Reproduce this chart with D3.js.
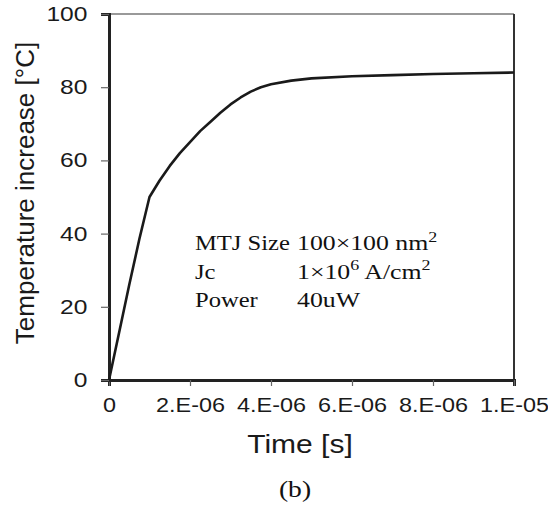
<!DOCTYPE html>
<html>
<head>
<meta charset="utf-8">
<script src="https://cdn.jsdelivr.net/npm/d3@7"></script>
<style>
  body { margin: 0; background: #fff; }
  svg { display: block; }
</style>
</head>
<body>
<script>
// data (time in microseconds, temperature increase in degrees C)
var timeMicro = [0, 0.25, 0.5, 0.75, 1.0, 1.25, 1.5, 1.75, 2.0, 2.25, 2.5, 2.75, 3.0, 3.25, 3.5, 3.75, 4.0, 4.5, 5, 6, 7, 8, 9, 10];
var tempValues = [0, 13, 26, 38.5, 50, 54.5, 58.5, 62, 65, 68, 70.5, 73, 75.3, 77.2, 78.8, 80, 80.8, 81.8, 82.4, 83, 83.3, 83.6, 83.8, 84];
var xTicks = [0, 2e-6, 4e-6, 6e-6, 8e-6, 1e-5];
var xTickLabels = ["0", "2.E-06", "4.E-06", "6.E-06", "8.E-06", "1.E-05"];
var yTicks = [0, 20, 40, 60, 80, 100];

var width = 548, height = 508;
var margin = { top: 14, right: 34, bottom: 128, left: 109 };
var stretch = "scale(1.2,1)"; // the original glyphs are a bit wide

var svg = d3.select("body").append("svg")
    .attr("width", width)
    .attr("height", height);

var x = d3.scaleLinear().domain([0, 1e-5]).range([margin.left, width - margin.right]);
var y = d3.scaleLinear().domain([0, 100]).range([height - margin.bottom, margin.top]);

// frame top / right
svg.append("line")
    .attr("x1", x(0)).attr("x2", x(1e-5))
    .attr("y1", y(100)).attr("y2", y(100))
    .attr("stroke", "#777").attr("stroke-width", 1.5);
svg.append("line")
    .attr("x1", x(1e-5)).attr("x2", x(1e-5))
    .attr("y1", y(100)).attr("y2", y(0))
    .attr("stroke", "#333").attr("stroke-width", 2);

// x axis
var xAxis = svg.append("g")
    .attr("transform", "translate(0," + y(0) + ")")
    .call(d3.axisBottom(x).tickValues(xTicks)
        .tickFormat(function (d, i) { return xTickLabels[i]; })
        .tickSize(6).tickPadding(20));
xAxis.select(".domain").attr("stroke", "#222").attr("stroke-width", 3);
xAxis.selectAll(".tick line").attr("stroke", "#666").attr("stroke-width", 1.2);
xAxis.selectAll(".tick text")
    .attr("font-family", "Liberation Sans, Arial, sans-serif")
    .attr("font-size", 19.5)
    .attr("fill", "#1a1a1a")
    .attr("dy", "0.3em")
    .attr("transform", stretch);

// y axis
var yAxis = svg.append("g")
    .attr("transform", "translate(" + x(0) + ",0)")
    .call(d3.axisLeft(y).tickValues(yTicks).tickSize(8).tickPadding(10));
yAxis.select(".domain").attr("stroke", "#222").attr("stroke-width", 3);
yAxis.selectAll(".tick line").attr("stroke", "#666").attr("stroke-width", 1.2);
yAxis.selectAll(".tick text")
    .attr("font-family", "Liberation Sans, Arial, sans-serif")
    .attr("font-size", 20.5)
    .attr("fill", "#1a1a1a")
    .attr("transform", stretch);

// curve
var data = timeMicro.map(function (t, i) { return { t: t * 1e-6, v: tempValues[i] }; });
var line = d3.line()
    .x(function (d) { return x(d.t); })
    .y(function (d) { return y(d.v); });
svg.append("path")
    .datum(data)
    .attr("d", line)
    .attr("fill", "none")
    .attr("stroke", "#1a1a1a")
    .attr("stroke-width", 2.6)
    .attr("stroke-linejoin", "round");

// axis titles
svg.append("text")
    .attr("transform", "translate(300,453) " + stretch)
    .attr("text-anchor", "middle")
    .attr("font-family", "Liberation Sans, Arial, sans-serif")
    .attr("font-size", 25)
    .attr("fill", "#1a1a1a")
    .text("Time [s]");

svg.append("text")
    .attr("transform", "translate(34,193) rotate(-90)")
    .attr("text-anchor", "middle")
    .attr("font-family", "Liberation Sans, Arial, sans-serif")
    .attr("font-size", 26)
    .attr("fill", "#1a1a1a")
    .text("Temperature increase [\u00B0C]");

// annotation block
var notes = [
    { label: "MTJ Size", parts: [["100\u00D7100 nm", ""], ["2", "sup"]] },
    { label: "Jc", parts: [["1\u00D710", ""], ["6", "sup"], [" A/cm", ""], ["2", "sup"]] },
    { label: "Power", parts: [["40uW", ""]] }
];
var noteFont = "Liberation Serif, Times New Roman, serif";
notes.forEach(function (n, i) {
    var g = svg.append("g")
        .attr("transform", "translate(0," + (250 + i * 28.5) + ")");
    g.append("text")
        .attr("transform", "translate(195,0) " + stretch)
        .attr("font-family", noteFont)
        .attr("font-size", 20.5)
        .attr("fill", "#111")
        .text(n.label);
    var t = g.append("text")
        .attr("transform", "translate(297,0) " + stretch)
        .attr("font-family", noteFont)
        .attr("font-size", 21.5)
        .attr("fill", "#111");
    n.parts.forEach(function (p) {
        var s = t.append("tspan").text(p[0]);
        if (p[1] === "sup") s.attr("font-size", 15).attr("baseline-shift", "super");
    });
});

svg.append("text")
    .attr("transform", "translate(295,497) " + stretch)
    .attr("text-anchor", "middle")
    .attr("font-family", noteFont)
    .attr("font-size", 23)
    .attr("fill", "#111")
    .text("(b)");
</script>
</body>
</html>
